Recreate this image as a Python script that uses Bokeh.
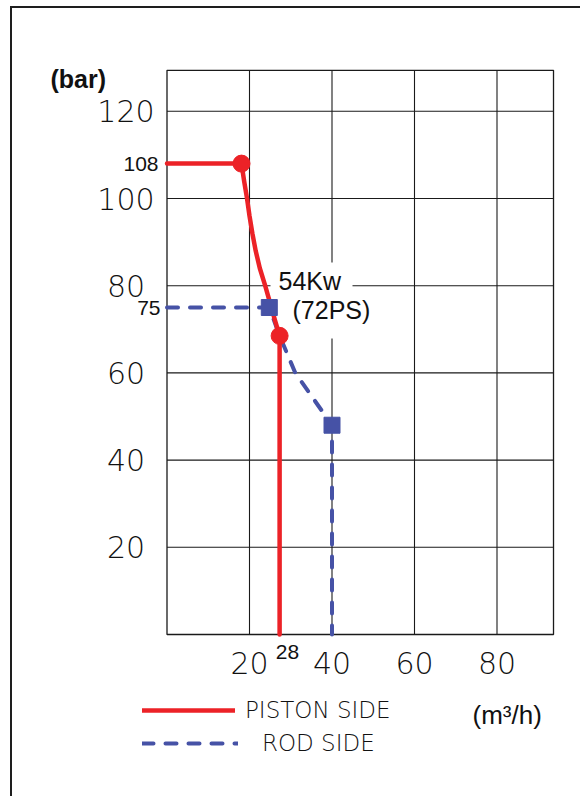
from bokeh.plotting import figure
from bokeh.models import Legend, LegendItem
from bokeh.core.properties import value
from bokeh.embed import file_html
from bokeh.resources import INLINE

# ---- data ----
piston_x = [0, 18.06, 18.7, 19.4, 20.0, 20.7, 21.5, 22.5, 23.8, 25.0, 26.2, 27.3, 27.3]
piston_y = [108, 108, 104, 100, 96, 92, 88, 84, 80, 76, 72, 68.5, 0]
piston_pts_x = [18.06, 27.3]
piston_pts_y = [108, 68.5]

rod_x = [0, 24.8, 27.3, 31.1, 40, 40]
rod_y = [75, 75, 68.5, 60, 48, 0]
rod_pts_x = [24.8, 40]
rod_pts_y = [75, 48]

x_ticks = [20, 40, 60, 80]
y_ticks = [20, 40, 60, 80, 100, 120]
x_max = 93.7
y_max = 129.4

series_names = ["PISTON SIDE", "ROD SIDE"]
point_notes = ["108", "75", "28"]
power_text = ["54Kw", "(72PS)"]
y_unit = "(bar)"
x_unit = "(m³/h)"

# ---- layout (pixel geometry of the page) ----
OX, OY = 12, 8            # canvas origin on the page
W, H = 570, 790           # canvas size
PX0, PXS = 166.5, 4.125   # page x of value 0, pixels per unit
PY0, PYS = 634.0, 4.36    # page y of value 0, pixels per unit


def dx(px):
    return (px - PX0) / PXS


def dy(py):
    return (PY0 - py) / PYS


RED = "#ec2227"
BLUE = "#4652a6"
INK = "#1a1a1a"
THIN = "DejaVu Sans Light"
ARIAL = "Liberation Sans"

p = figure(width=W, height=H,
           x_range=(dx(OX), dx(OX + W)), y_range=(dy(OY + H), dy(OY)),
           output_backend="svg", toolbar_location=None,
           min_border=0, min_border_left=0, min_border_right=0,
           min_border_top=0, min_border_bottom=0)
p.axis.visible = False
p.grid.visible = False
p.outline_line_color = None
p.styles = {"margin-left": "10px", "margin-top": "6px",
            "border-left": "2px solid #1e1e1e", "border-top": "2px solid #1e1e1e"}

# grid
p.segment(x0=x_ticks, x1=x_ticks, y0=[0] * len(x_ticks), y1=[y_max] * len(x_ticks),
          line_color=INK, line_width=1.1)
p.segment(x0=[0] * len(y_ticks), x1=[x_max] * len(y_ticks), y0=y_ticks, y1=y_ticks,
          line_color=INK, line_width=1.1)
p.quad(left=[0], right=[x_max], bottom=[0], top=[y_max], fill_color=None,
       line_color=INK, line_width=1.3)

# white background behind the power label
p.quad(left=[dx(270)], right=[dx(352)], bottom=[dy(338)], top=[dy(262)],
       fill_color="white", line_color=None)

# tick labels
p.text(x=x_ticks, y=[dy(662.5)] * len(x_ticks), text=[str(t) for t in x_ticks],
       text_font=value(THIN), text_font_size=value("30px"), text_color="#111111",
       text_align="center", text_baseline="middle")
p.text(x=[dx(125.5)] * len(y_ticks), y=y_ticks, text=[str(t) for t in y_ticks],
       text_font=value(THIN), text_font_size=value("30px"), text_color="#111111",
       text_align="center", text_baseline="middle")

# series
rod_line = p.line(rod_x, rod_y, line_color=BLUE, line_width=4,
                  line_dash="11 12", line_cap="round")
piston_line = p.line(piston_x, piston_y, line_color=RED, line_width=4.5,
                     line_cap="round", line_join="round")
p.scatter(rod_pts_x, rod_pts_y, marker="square", size=16,
          fill_color=BLUE, line_color=BLUE)
p.scatter(piston_pts_x, piston_pts_y, marker="circle", size=17,
          fill_color=RED, line_color=RED)

# notes
p.text(x=[dx(158), dx(160)], y=[piston_y[1], rod_y[1]], text=point_notes[:2],
       text_font=value(ARIAL), text_font_size=value("21px"), text_color="#111111",
       text_align="right", text_baseline="middle")
p.text(x=[dx(287)], y=[dy(651)], text=point_notes[2:],
       text_font=value(ARIAL), text_font_size=value("21px"), text_color="#111111",
       text_align="center", text_baseline="middle")
p.text(x=[dx(278), dx(292)], y=[dy(280), dy(309)], text=power_text,
       text_font=value(ARIAL), text_font_size=value("25px"), text_color="#111111",
       text_align="left", text_baseline="middle")
p.text(x=[dx(50)], y=[dy(78)], text=[y_unit],
       text_font=value(ARIAL), text_font_size=value("25px"), text_font_style="bold",
       text_color="#111111", text_align="left", text_baseline="middle")
p.text(x=[dx(472)], y=[dy(714)], text=[x_unit],
       text_font=value(ARIAL), text_font_size=value("26px"), text_color="#111111",
       text_align="left", text_baseline="middle")

# legend (two single-entry legends, like the reference)
common = dict(padding=0, margin=0, spacing=0, glyph_height=30, label_height=30,
              border_line_color=None, background_fill_alpha=0,
              label_text_font=THIN, label_text_font_size="23px",
              label_text_color="#111111")
leg1 = Legend(items=[LegendItem(label=series_names[0], renderers=[piston_line])],
              location=(142 - OX, OY + H - 725), glyph_width=93, label_standoff=10,
              **common)
leg2 = Legend(items=[LegendItem(label=series_names[1], renderers=[rod_line])],
              location=(142 - OX, OY + H - 758), glyph_width=96, label_standoff=24,
              **common)
p.add_layout(leg1, "center")
p.add_layout(leg2, "center")

open("out.html", "w").write(file_html(p, INLINE))
